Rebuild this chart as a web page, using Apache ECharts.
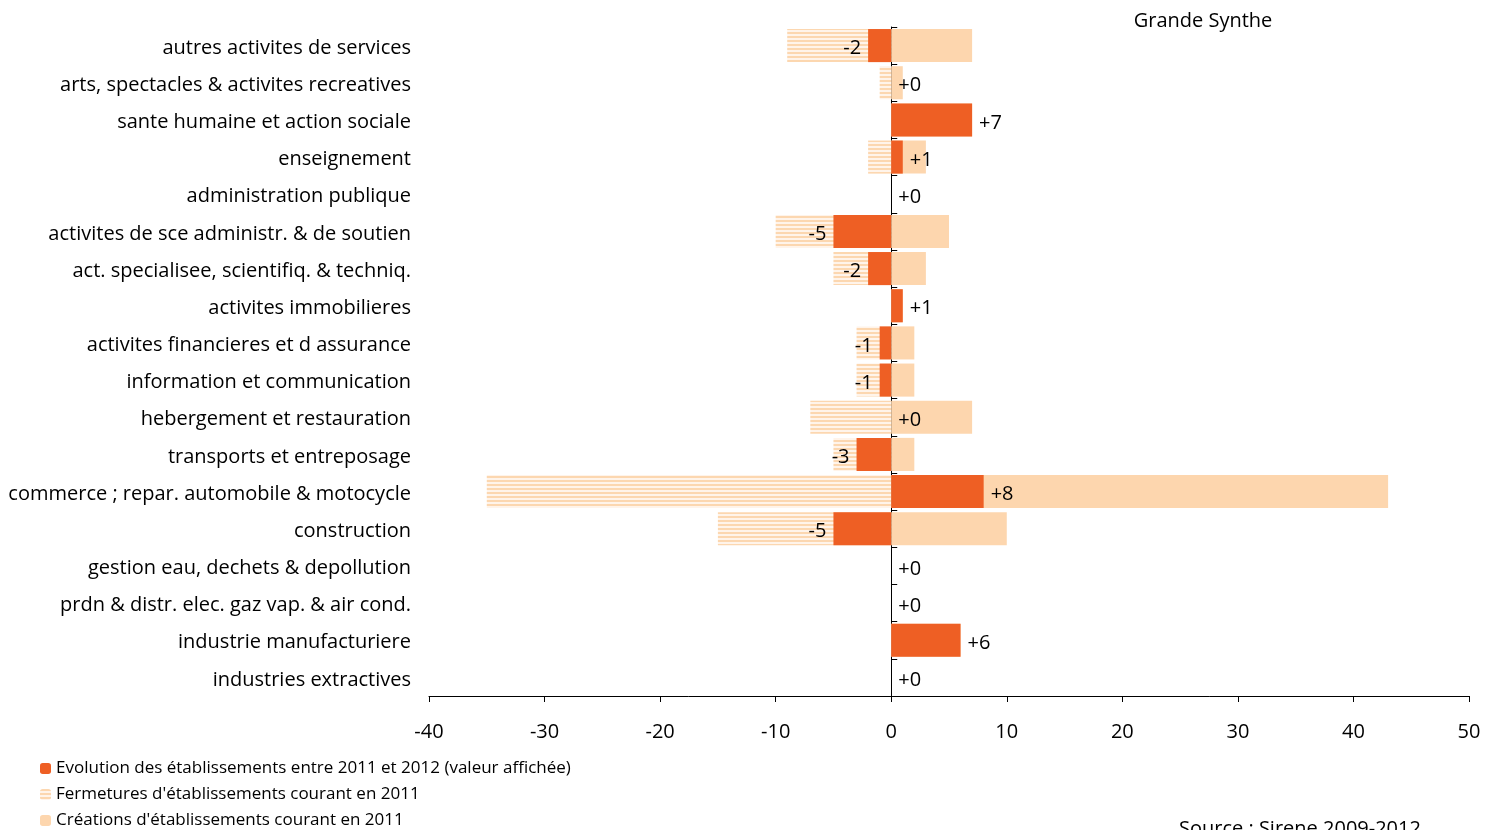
<!DOCTYPE html>
<html><head><meta charset="utf-8">
<script src="https://cdn.jsdelivr.net/npm/echarts@6/dist/echarts.min.js"></script>
<style>html,body{margin:0;padding:0;background:#fff}#c{width:1495px;height:830px}</style>
</head><body><div id="c"></div>
<script>
const categories = [
  "autres activites de services",
  "arts, spectacles & activites recreatives",
  "sante humaine et action sociale",
  "enseignement",
  "administration publique",
  "activites de sce administr. & de soutien",
  "act. specialisee, scientifiq. & techniq.",
  "activites immobilieres",
  "activites financieres et d assurance",
  "information et communication",
  "hebergement et restauration",
  "transports et entreposage",
  "commerce ; repar. automobile & motocycle",
  "construction",
  "gestion eau, dechets & depollution",
  "prdn & distr. elec. gaz vap. & air cond.",
  "industrie manufacturiere",
  "industries extractives"
];
const creations   = [7, 1, 7, 3, 0, 5, 3, 1, 2, 2, 7, 2, 43, 10, 0, 0, 6, 0];
const fermetures  = [-9, -1, 0, -2, 0, -10, -5, 0, -3, -3, -7, -5, -35, -15, 0, 0, 0, 0];
const evolution   = [-2, 0, 7, 1, 0, -5, -2, 1, -1, -1, 0, -3, 8, -5, 0, 0, 6, 0];
const xTicks = [-40, 50, 10];
const seriesNames = [
  "Evolution des établissements entre 2011 et 2012 (valeur affichée)",
  "Fermetures d'établissements courant en 2011",
  "Créations d'établissements courant en 2011"
];

const FONT = "Open Sans";
const ORANGE = "#EE5F24";
const PEACH = "#FDD6AE";

const pc = document.createElement('canvas');
pc.width = 4; pc.height = 4;
const g = pc.getContext('2d');
g.fillStyle = '#FFF4EA'; g.fillRect(0,0,4,4);
g.fillStyle = '#FCD7B0'; g.fillRect(0,0,4,2);
const stripe = { image: pc, repeat: 'repeat' };

const legendTops = [760, 786, 812];
const chart = echarts.init(document.getElementById('c'), null, {renderer: 'canvas'});
chart.setOption({
  animation: false,
  textStyle: { fontFamily: FONT },
  title: [
    { text: "Grande Synthe", left: 1198, top: 6, textAlign: 'center',
      textStyle: { fontFamily: FONT, fontSize: 20, fontWeight: 'normal', color: '#000' } },
    { text: "Source : Sirene 2009-2012", left: 1174, top: 814,
      textStyle: { fontFamily: FONT, fontSize: 20, fontWeight: 'normal', color: '#000' } }
  ],
  legend: seriesNames.map((n, i) => ({
    orient: 'vertical', left: 40, top: legendTops[i], itemWidth: 11, itemHeight: 11,
    data: [n], selectedMode: false, padding: 0,
    textStyle: { fontFamily: FONT, fontSize: 17, color: '#000' }
  })),
  grid: { left: 429, right: 26, top: 27, bottom: 134, containLabel: false },
  xAxis: {
    type: 'value', min: xTicks[0], max: xTicks[1], interval: xTicks[2],
    axisLine: { show: true, lineStyle: { color: '#000', width: 1 } },
    axisTick: { show: true, length: 6, lineStyle: { color: '#000' } },
    splitLine: { show: false },
    axisLabel: { fontFamily: FONT, fontSize: 20, color: '#000', margin: 26 }
  },
  yAxis: [
    { type: 'category', data: categories, inverse: true, position: 'left',
      axisLine: { show: false, onZero: false }, axisTick: { show: false },
      axisLabel: { fontFamily: FONT, fontSize: 20, color: '#000', margin: 18,
        formatter: v => '{a|' + v + '}',
        rich: { a: { fontFamily: FONT, fontSize: 20, color: '#000', padding: [5, 0, 0, 0] } } } },
    { type: 'category', data: categories, inverse: true,
      axisLine: { show: true, onZero: true, lineStyle: { color: '#000', width: 1 } },
      axisTick: { show: true, length: 6, lineStyle: { color: '#000' } },
      axisLabel: { show: false } }
  ],
  series: [
    { name: seriesNames[2], type: 'bar', yAxisIndex: 0, data: creations,
      barWidth: '89%', barGap: '-100%', itemStyle: { color: PEACH }, z: 1 },
    { name: seriesNames[1], type: 'bar', yAxisIndex: 0, data: fermetures,
      barWidth: '89%', barGap: '-100%', itemStyle: { color: stripe }, z: 1 },
    { name: seriesNames[0], type: 'bar', yAxisIndex: 0, barWidth: '89%', barGap: '-100%',
      itemStyle: { color: ORANGE }, z: 3,
      data: evolution.map(v => ({
        value: v,
        label: { show: true, position: v < 0 ? 'left' : 'right', distance: 7,
          formatter: p => (p.value >= 0 ? '+' : '') + p.value, offset: [0, 3],
          fontFamily: FONT, fontSize: 20, color: '#000' }
      })) }
  ]
});
</script></body></html>
